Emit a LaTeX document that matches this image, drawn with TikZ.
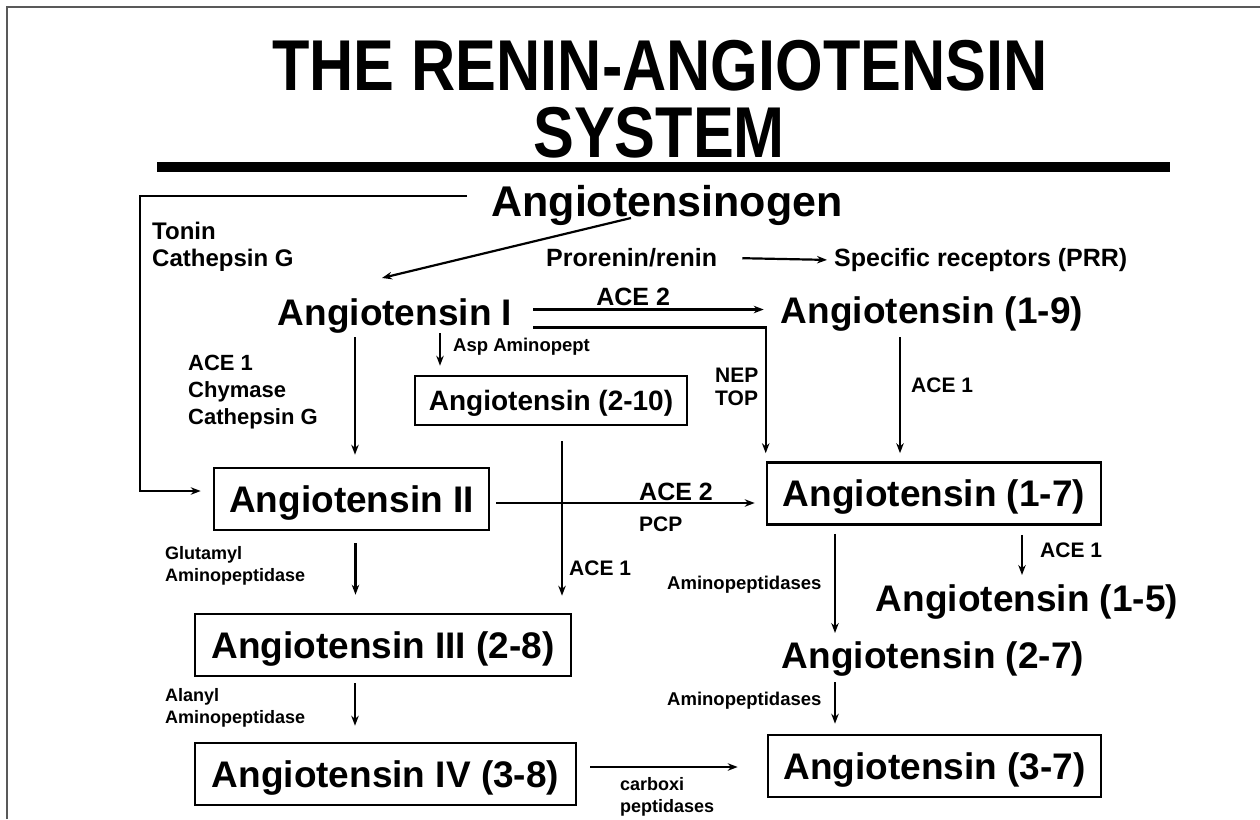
\documentclass[tikz,border=0pt]{standalone}
\usepackage{fontspec}
\setmainfont{Liberation Sans}
\newfontfamily\titlefont[FakeStretch=0.85]{Liberation Sans}
\usetikzlibrary{arrows.meta}

\begin{document}
\begin{tikzpicture}[x=1pt,y=-1pt,
  big/.style={inner sep=0pt,font=\bfseries\fontsize{37}{40}\selectfont},
  box/.style={big,draw,line width=2.6pt,minimum height=62pt,minimum width=#1,
    text height=26.5pt,text depth=0pt},
  lab/.style 2 args={inner sep=0pt,font=\bfseries\fontsize{#1}{#2}\selectfont},
  arr/.style={-{Stealth[length=10pt,width=7.5pt]},line width=2.2pt},
  ttl/.style={inner sep=0pt,anchor=base,font=\titlefont\bfseries\fontsize{72}{72}\selectfont}]
  \useasboundingbox (0,0) rectangle (1260,819);
  \draw[black!65,line width=1.5pt] (7,819) -- (7,7) -- (1260,7);

  % title
  \node[ttl] (ttl1) at (660,90) {THE RENIN-ANGIOTENSIN};
  \node[ttl] (ttl2) at (659,157) {SYSTEM};
  \draw[line width=10pt] (157,167) -- (1170,167);

  % peptides
  \node[big,font=\bfseries\fontsize{43}{46}\selectfont,anchor=base] (aogen) at (667,216) {Angiotensinogen};
  \node[big,anchor=base] (agI) at (395,325) {Angiotensin I};
  \node[big,anchor=base] (a19) at (932,323) {Angiotensin (1-9)};
  \node[box=272pt,minimum height=49pt,text height=20pt,font=\bfseries\fontsize{28}{30}\selectfont] (a210) at (551,400.5) {Angiotensin (2-10)};
  \node[box=275pt] (agII) at (351.5,499) {Angiotensin II};
  \node[box=334pt] (a17) at (934,493.5) {Angiotensin (1-7)};
  \node[big,anchor=base] (a15) at (1027,611) {Angiotensin (1-5)};
  \node[box=376pt] (agIII) at (383,645) {Angiotensin III (2-8)};
  \node[big,anchor=base] (a27) at (933,668) {Angiotensin (2-7)};
  \node[box=381pt] (agIV) at (385.5,774) {Angiotensin IV (3-8)};
  \node[box=333pt] (a37) at (934.5,766) {Angiotensin (3-7)};

  % enzymes
  \node[lab={24}{27},align=left,anchor=north west] (tonin) at (152,221.5) {Tonin\\Cathepsin G};
  \node[lab={25}{25},anchor=base west] (pro) at (546,266.5) {Prorenin/renin};
  \node[lab={25}{25},anchor=base west] (prr) at (834,266.5) {Specific receptors (PRR)};
  \node[lab={18.5}{20},anchor=base west] (asp) at (453,351) {Asp Aminopept};
  \node[lab={22}{27},align=left,anchor=north west] (acel) at (188,355) {ACE 1\\Chymase\\Cathepsin G};
  \node[lab={21}{23},align=left,anchor=north west] (nep) at (715,367.5) {NEP\\TOP};
  \node[lab={21}{21},anchor=base west] (ace1r) at (911,392.5) {ACE 1};
  \node[lab={25}{25},anchor=base west] (ace2b) at (639,500) {ACE 2};
  \node[lab={21}{21},anchor=base west] (pcp) at (639,531) {PCP};
  \node[lab={18}{22},align=left,anchor=north west] (glu) at (165,546.5) {Glutamyl\\Aminopeptidase};
  \node[lab={21}{21},anchor=base west] (ace1s) at (1040,557.5) {ACE 1};
  \node[lab={21}{21},anchor=base west] (ace1m) at (569,575.5) {ACE 1};
  \node[lab={18.5}{20},anchor=base west] (amino1) at (667,589.6) {Aminopeptidases};
  \node[lab={18}{22},align=left,anchor=north west] (ala) at (165,688.5) {Alanyl\\Aminopeptidase};
  \node[lab={18.5}{20},anchor=base west] (amino2) at (667,705.6) {Aminopeptidases};
  \node[lab={18}{22},align=left,anchor=north west] (carb) at (620,777) {carboxi\\peptidases};

  % reactions
  \coordinate (tn) at (467,196);
  \coordinate (tc) at (140,491);
  \coordinate (dg) at (631,218);
  \draw[arr,shorten >=12pt] (tn) -- (tn -| tc) -- (tc) -- (tc -| agII.west);
  \draw[arr] (dg) -- ([xshift=-13pt,yshift=20pt]agI.north);
  \draw[arr,shorten <=25pt,shorten >=7pt] (pro.east) -- (prr.west);
  \draw[arr,shorten <=21pt,shorten >=17pt] ([yshift=6pt]agI.east) -- ([yshift=6pt]agI.east -| a19.west)
    node[lab={25}{25},pos=0.45,above=3pt] {ACE 2};
  \draw[arr,shorten <=21pt,shorten >=8pt] ([yshift=-12pt]agI.east) -| (a17.north west);
  \draw[arr,shorten >=9pt] ([xshift=45pt]agI.south) -- ([xshift=45pt]agI.south |- a210.north);
  \draw[arr,shorten <=4pt,shorten >=12pt] ([xshift=-40pt]agI.south) -- ([xshift=-40pt]agI.south |- agII.north);
  \draw[arr,shorten <=6pt,shorten >=8pt] ([xshift=-32pt]a19.south) -- ([xshift=-32pt]a19.south |- a17.north);
  \draw[arr,shorten <=6pt,shorten >=11pt] ([yshift=-4pt]agII.east) -- ([yshift=-4pt]agII.east -| a17.west);
  \draw[arr,shorten <=15pt,shorten >=17pt] ([xshift=11pt]a210.south) -- ([xshift=11pt]a210.south |- agIII.north);
  \draw[arr,shorten <=12pt,shorten >=18pt] ([xshift=4pt]agII.south) -- ([xshift=4pt]agII.south |- agIII.north);
  \draw[arr,shorten <=6pt,shorten >=16pt] ([xshift=-28pt]agIII.south) -- ([xshift=-28pt]agIII.south |- agIV.north);
  \draw[arr,shorten <=13pt,shorten >=29pt] ([yshift=7pt]agIV.east) -- ([yshift=7pt]agIV.east -| a37.west);
  \draw[arr,shorten <=8pt,shorten >=8pt] ([xshift=-99pt]a17.south) -- ([xshift=-99pt]a17.south |- a27.north);
  \draw[arr,shorten <=9pt,shorten >=9pt] ([xshift=88pt]a17.south) -- ([xshift=88pt]a17.south |- a15.north);
  \draw[arr,shorten <=6pt,shorten >=10pt] ([xshift=-98pt]a27.south) -- ([xshift=-98pt]a27.south |- a37.north);
\end{tikzpicture}
\end{document}
